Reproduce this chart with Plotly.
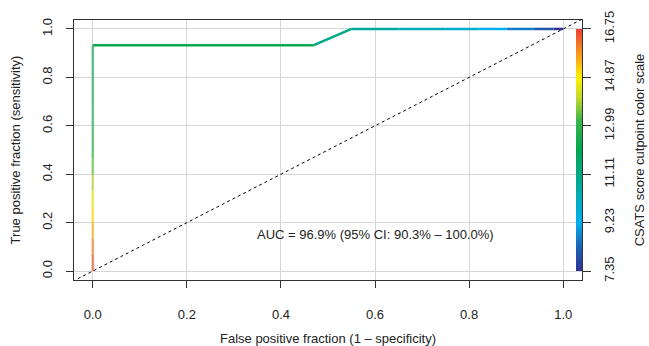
import plotly.graph_objects as go
from plotly.colors import sample_colorscale

# ROC points (false positive fraction, true positive fraction) and CSATS cutpoints
fpf = [0, 0, 0, 0, 0, 0, 0, 0, 0, 0, 0, 0, 0, 0, 0,
       0.47, 0.55, 0.65, 0.75, 0.82, 0.88, 0.94, 0.98, 1.0]
tpf = [0, 0.067, 0.133, 0.2, 0.267, 0.333, 0.4, 0.467, 0.533, 0.6, 0.667, 0.733, 0.8, 0.867, 0.933,
       0.933, 1.0, 1.0, 1.0, 1.0, 1.0, 1.0, 1.0, 1.0]
cutpoints = [16.75, 16.3, 15.8, 15.3, 14.9, 14.3, 13.7, 13.2, 12.9, 12.7, 12.6, 12.5, 12.45, 12.4, 12.35,
             12.3, 11.0, 10.6, 10.2, 9.7, 9.2, 8.6, 8.0, 7.35]

cbar_ticks = [7.35, 9.23, 11.11, 12.99, 14.87, 16.75]
cbar_labels = ["7.35", "9.23", "11.11", "12.99", "14.87", "16.75"]
axis_ticks = [0, 0.2, 0.4, 0.6, 0.8, 1.0]
axis_labels = ["0.0", "0.2", "0.4", "0.6", "0.8", "1.0"]
auc_text = "AUC = 96.9% (95% CI: 90.3% \u2013 100.0%)"

cmin, cmax = min(cbar_ticks), max(cbar_ticks)
colorscale = [
    [0.0, "#2e3192"], [0.1, "#1b63b5"], [0.2, "#00aeef"], [0.35, "#00a99d"],
    [0.5, "#00a651"], [0.62, "#39b54a"], [0.72, "#c8da2b"], [0.8, "#fff200"],
    [0.9, "#f7941d"], [1.0, "#ef4136"],
]

FONT = "Liberation Sans, Arial, sans-serif"
FS = 13
YPAD = 0.037
fig = go.Figure()

# diagonal reference line
fig.add_trace(go.Scatter(x=[-0.1, 1.1], y=[-0.1, 1.1], mode="lines",
                         line=dict(color="black", width=1, dash="dot"),
                         hoverinfo="skip", showlegend=False))

# coloured ROC segments
for i in range(len(fpf) - 1):
    vertical = fpf[i] == fpf[i + 1] == 0
    c = (cutpoints[i] + cutpoints[i + 1]) / 2 if vertical else cutpoints[i + 1]
    col = sample_colorscale(colorscale, [(c - cmin) / (cmax - cmin)])[0]
    fig.add_trace(go.Scatter(
        x=[fpf[i], fpf[i + 1]], y=[tpf[i], tpf[i + 1]], mode="lines",
        line=dict(color=col, width=2.5), opacity=0.65 if vertical else 1.0,
        showlegend=False, hoverinfo="skip"))

# colour bar (the bar itself) + a right-hand axis carrying its ticks and title
fig.add_trace(go.Scatter(
    x=[None, None], y=[None, None], mode="markers", yaxis="y2",
    marker=dict(color=[cmin, cmax], cmin=cmin, cmax=cmax, colorscale=colorscale,
                showscale=True,
                colorbar=dict(
                    x=(576 - 74) / 508, xanchor="left", xref="paper", xpad=0,
                    y=0.5, yanchor="middle", len=242 / 260, lenmode="fraction", ypad=0,
                    thickness=6, outlinewidth=0, ticks="", showticklabels=False,
                )),
    showlegend=False, hoverinfo="skip"))

fig.add_annotation(x=0.6, y=0.153, xref="x", yref="y", text=auc_text, showarrow=False,
                   font=dict(size=FS, color="#222", family=FONT), xanchor="center", yanchor="middle")

span = cmax - cmin
fig.update_layout(
    width=649, height=346,
    margin=dict(l=74, r=67, t=20, b=66, autoexpand=False),
    paper_bgcolor="white", plot_bgcolor="white",
    font=dict(family=FONT, size=FS, color="#222"),
    xaxis=dict(range=[-0.04, 1.04], tickvals=axis_ticks, ticktext=axis_labels,
               showgrid=True, gridcolor="#d6d6d6", gridwidth=1, zeroline=False,
               showline=True, linecolor="#333", linewidth=1, mirror=True,
               ticks="outside", ticklen=7, tickcolor="#333", ticklabelstandoff=15,
               automargin=False,
               title=dict(text="False positive fraction (1 \u2013 specificity)", standoff=14,
                          font=dict(size=FS))),
    yaxis=dict(range=[-YPAD, 1 + YPAD], tickvals=axis_ticks, ticktext=axis_labels,
               showgrid=True, gridcolor="#d6d6d6", gridwidth=1, zeroline=False,
               showline=True, linecolor="#333", linewidth=1, mirror=True,
               ticks="outside", ticklen=7, tickcolor="#333", tickangle=-90,
               ticklabelstandoff=9, automargin=False,
               title=dict(text="True positive fraction (sensitivity)", standoff=16,
                          font=dict(size=FS))),
    yaxis2=dict(overlaying="y", side="right", anchor="x",
                range=[cmin - YPAD * span, cmax + YPAD * span],
                tickvals=cbar_ticks, ticktext=cbar_labels,
                showgrid=False, zeroline=False, showline=True, linecolor="#333",
                ticks="outside", ticklen=8, tickcolor="#333", tickangle=-90,
                ticklabelstandoff=7, automargin=False,
                title=dict(text="CSATS score cutpoint color scale", standoff=19,
                           font=dict(size=FS))),
)

fig.write_html("out.html", config={"displayModeBar": False},
               post_script="document.body.style.margin='0';")
